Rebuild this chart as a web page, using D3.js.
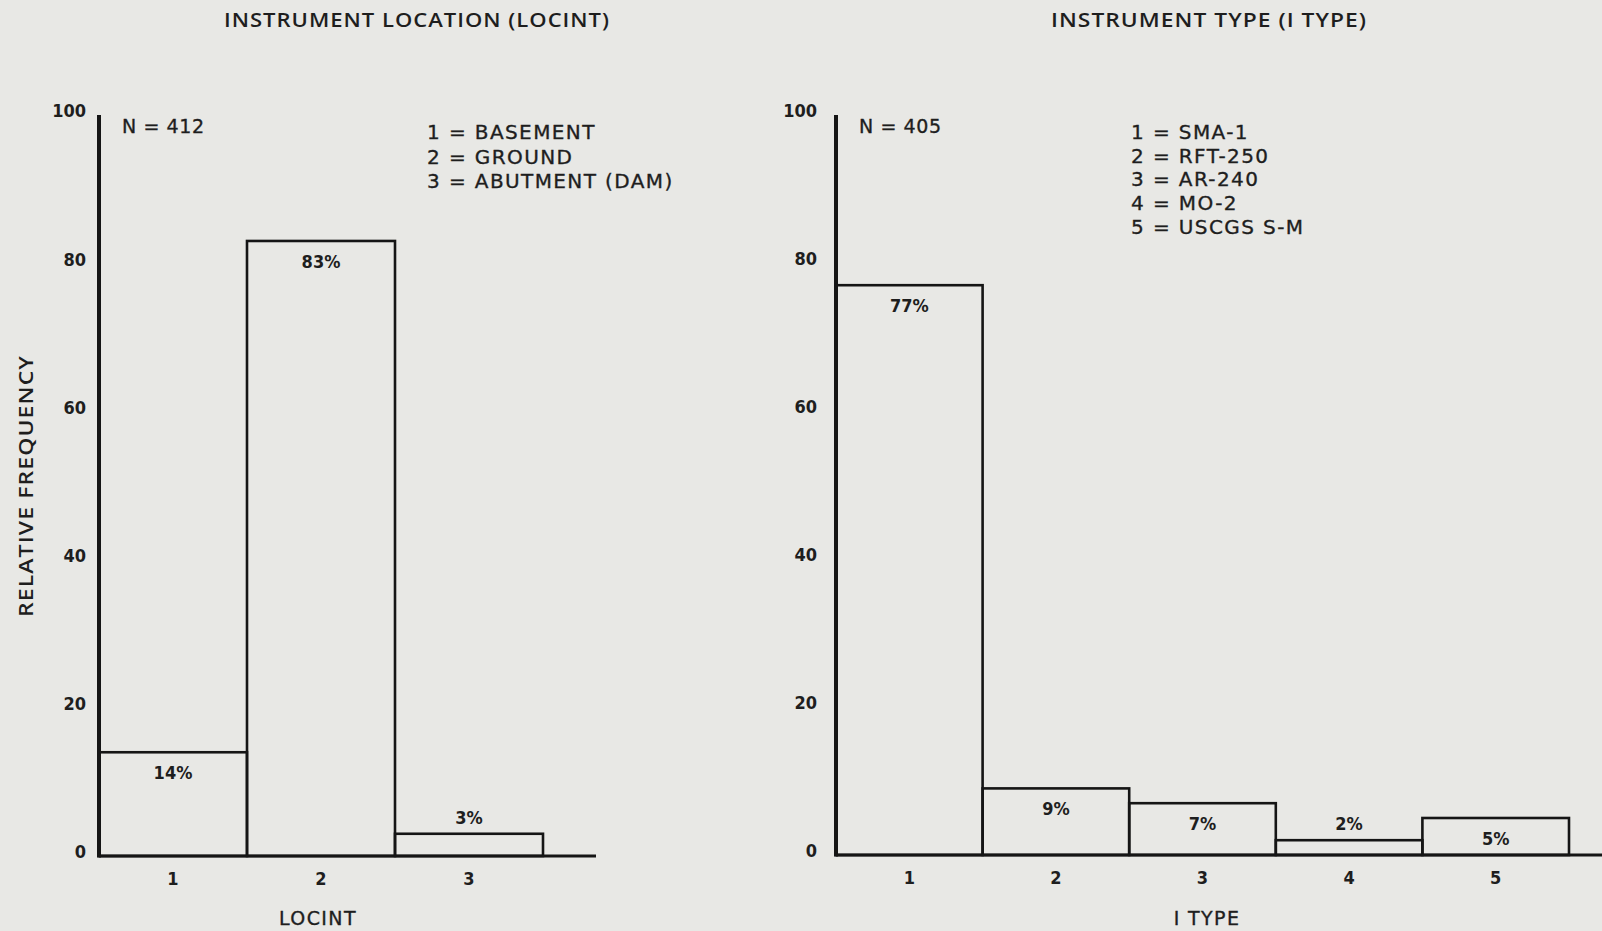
<!DOCTYPE html>
<html>
<head>
<meta charset="utf-8">
<script src="https://cdn.jsdelivr.net/npm/d3@7"></script>
<style>
  html, body { margin: 0; padding: 0; background: #e8e8e5; }
  svg { display: block; }
  text { fill: #1e1e1e; font-family: Lato, "Open Sans", sans-serif; }
  .num { font-family: "DejaVu Sans Condensed", "Liberation Sans Narrow", sans-serif; }
  .lbl { font-family: "Open Sans", Lato, sans-serif; font-weight: 600; letter-spacing: 0.9px; }
  .key { font-family: "DejaVu Sans", sans-serif; font-weight: 400; letter-spacing: 1.4px; stroke: #1e1e1e; stroke-width: 0.35px; }
</style>
</head>
<body>
<svg id="chart" width="1602" height="931"></svg>
<script>
// Instrument location histogram
const locCategories = ["1", "2", "3"];
const locValues = [14, 83, 3];
const locLegend = ["1 = BASEMENT", "2 = GROUND", "3 = ABUTMENT (DAM)"];
const locN = "N = 412";

// Instrument type histogram
const typeCategories = ["1", "2", "3", "4", "5"];
const typeValues = [77, 9, 7, 2, 5];
const typeLegend = ["1 = SMA-1", "2 = RFT-250", "3 = AR-240", "4 = MO-2", "5 = USCGS S-M"];
const typeN = "N = 405";

const yTicks = [0, 20, 40, 60, 80, 100];

const svg = d3.select("#chart");
const ink = "#151515";

function histogram(opt) {
  const g = svg.append("g");
  const x = d3.scaleBand().domain(opt.categories).range([opt.x0, opt.x1]).padding(0);
  const y = d3.scaleLinear().domain([0, 100]).range([opt.y0, opt.yTop]);

  // title
  g.append("text")
    .attr("class", "lbl")
    .attr("x", opt.titleX).attr("y", 27)
    .attr("text-anchor", "middle")
    .attr("font-size", 20)
    .attr("textLength", opt.titleLen)
    .attr("lengthAdjust", "spacingAndGlyphs")
    .text(opt.title);

  // y axis ticks (labels only)
  const yAxis = d3.axisLeft(y).tickValues(yTicks).tickSize(0).tickPadding(opt.tickPad);
  const ya = g.append("g").attr("transform", `translate(${opt.x0},0)`).call(yAxis);
  ya.select(".domain").remove();
  ya.selectAll("text")
    .attr("class", "num")
    .attr("font-size", 18).attr("font-weight", 700)
    .attr("fill", "#1e1e1e")
    .attr("dy", "0.1em");

  // bars
  g.selectAll("rect.bar")
    .data(opt.values)
    .join("rect")
    .attr("class", "bar")
    .attr("x", (d, i) => x(opt.categories[i]))
    .attr("y", d => y(d))
    .attr("width", x.bandwidth())
    .attr("height", d => y(0) - y(d))
    .attr("fill", "none")
    .attr("stroke", ink)
    .attr("stroke-width", 2.6);

  // bar value labels: inside for tall bars, above for short ones
  g.selectAll("text.val")
    .data(opt.values)
    .join("text")
    .attr("class", "val num")
    .attr("x", (d, i) => x(opt.categories[i]) + x.bandwidth() / 2)
    .attr("y", d => d > 4 ? y(d) + 27 : y(d) - 10)
    .attr("text-anchor", "middle")
    .attr("font-size", 18).attr("font-weight", 700)
    .text(d => d + "%");

  // baseline and vertical axis
  g.append("line")
    .attr("x1", opt.x0).attr("x2", opt.baseEnd)
    .attr("y1", y(0)).attr("y2", y(0))
    .attr("stroke", ink).attr("stroke-width", 3.2);
  g.append("line")
    .attr("x1", opt.x0).attr("x2", opt.x0)
    .attr("y1", y(100)).attr("y2", y(0) + 1.5)
    .attr("stroke", ink).attr("stroke-width", 4);

  // x tick labels
  const xAxis = d3.axisBottom(x).tickSize(0).tickPadding(16);
  const xa = g.append("g").attr("transform", `translate(0,${y(0)})`).call(xAxis);
  xa.select(".domain").remove();
  xa.selectAll("text")
    .attr("class", "num")
    .attr("font-size", 18).attr("font-weight", 700)
    .attr("fill", "#1e1e1e");

  // x axis title
  g.append("text")
    .attr("class", "key")
    .attr("x", opt.xTitleX).attr("y", 925)
    .attr("text-anchor", "middle")
    .attr("font-size", 19)
    .text(opt.xTitle);

  // sample size
  g.append("text")
    .attr("class", "key")
    .attr("x", opt.x0 + 23).attr("y", 133)
    .attr("font-size", 19)
    .style("letter-spacing", "0.6px")
    .text(opt.n);

  // code legend
  g.selectAll("text.leg")
    .data(opt.legend)
    .join("text")
    .attr("class", "leg key")
    .attr("x", opt.legX)
    .attr("y", (d, i) => opt.legY + i * opt.legStep)
    .attr("font-size", 20)
    .text(d => d);
}

histogram({
  categories: locCategories, values: locValues, legend: locLegend, n: locN,
  title: "INSTRUMENT LOCATION (LOCINT)", titleX: 417, titleLen: 386,
  xTitle: "LOCINT", xTitleX: 318,
  x0: 99, x1: 543, baseEnd: 596, y0: 856, yTop: 115, tickPad: 13,
  legX: 427, legY: 139, legStep: 24.5
});

histogram({
  categories: typeCategories, values: typeValues, legend: typeLegend, n: typeN,
  title: "INSTRUMENT TYPE (I TYPE)", titleX: 1209, titleLen: 316,
  xTitle: "I TYPE", xTitleX: 1207,
  x0: 836, x1: 1569, baseEnd: 1602, y0: 855, yTop: 115, tickPad: 19,
  legX: 1131, legY: 139, legStep: 23.7
});

// shared y axis title
svg.append("text")
  .attr("class", "lbl")
  .attr("transform", "translate(33,486) rotate(-90)")
  .attr("text-anchor", "middle")
  .attr("font-size", 19)
  .attr("textLength", 262)
  .attr("lengthAdjust", "spacingAndGlyphs")
  .text("RELATIVE FREQUENCY");
</script>
</body>
</html>
